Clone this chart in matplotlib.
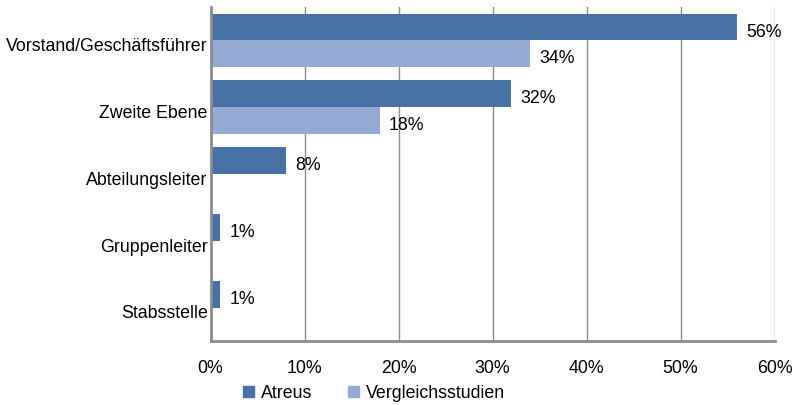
import matplotlib
matplotlib.use("Agg")
import matplotlib.pyplot as plt
import numpy as np
from matplotlib.patches import Patch

plt.rcParams['font.family'] = ['Liberation Sans', 'DejaVu Sans']

categories = ["Vorstand/Geschäftsführer", "Zweite Ebene", "Abteilungsleiter", "Gruppenleiter", "Stabsstelle"]
atreus = [56, 32, 8, 1, 1]
vergleich = [34, 18, None, None, None]
xticks = [0, 10, 20, 30, 40, 50, 60]
xticklabels = ["0%", "10%", "20%", "30%", "40%", "50%", "60%"]
series_names = ["Atreus", "Vergleichsstudien"]

c_atreus = "#4672a6"
c_verg = "#95abd4"
grid_c = "#8c8c8c"
fs = 12.8

fig = plt.figure(figsize=(7.99, 4.06), dpi=100)
ax = fig.add_axes([210.5/799, 1-342/406, 564/799, 334/406])

y = np.arange(len(categories))
h = 0.4
for i, v in enumerate(atreus):
    ax.barh(y[i] - h/2, v, height=h, color=c_atreus, zorder=3)
    ax.text(v + 1.0, y[i] - h/2 + 0.06, f"{v}%", va="center", ha="left", fontsize=fs, zorder=4)
for i, v in enumerate(vergleich):
    if v is None:
        continue
    ax.barh(y[i] + h/2, v, height=h, color=c_verg, zorder=3)
    ax.text(v + 1.0, y[i] + h/2 + 0.06, f"{v}%", va="center", ha="left", fontsize=fs, zorder=4)

ax.set_ylim(len(categories) - 0.5, -0.5)
ax.set_xlim(0, 60)
ax.set_xticks(xticks)
ax.set_xticklabels(xticklabels, fontsize=fs)
ax.set_yticks(y + 0.05)
ax.set_yticklabels(categories, fontsize=fs)
ax.tick_params(axis="both", length=0)
ax.tick_params(axis="x", pad=13)
ax.tick_params(axis="y", pad=2)
ax.grid(axis="x", color=grid_c, linewidth=1, zorder=0)
for s in ["top", "right"]:
    ax.spines[s].set_visible(False)
for s in ["left", "bottom"]:
    ax.spines[s].set_color(grid_c)
    ax.spines[s].set_linewidth(2)
    ax.spines[s].set_zorder(5)

handles = [Patch(color=c_atreus), Patch(color=c_verg)]
fig.legend(handles, series_names, loc="center", bbox_to_anchor=(374/799, 1-394/406),
           ncol=2, frameon=False, fontsize=fs, handlelength=0.6, handleheight=0.6,
           handletextpad=0.4, columnspacing=2.0)

fig.savefig("out.png", dpi=100)
